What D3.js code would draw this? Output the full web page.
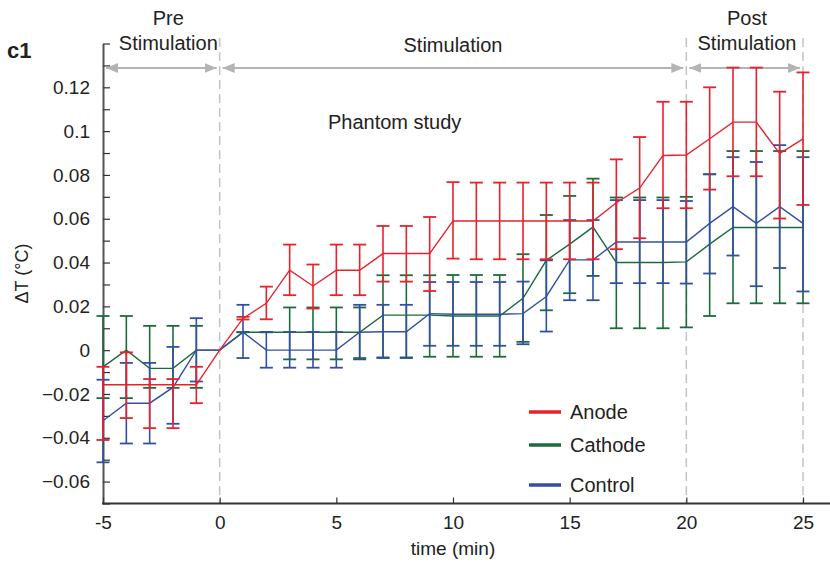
<!DOCTYPE html>
<html>
<head>
<meta charset="utf-8">
<script src="https://cdn.jsdelivr.net/npm/d3@7"></script>
<style>
  body { margin: 0; background: #fff; }
  svg { display: block; font-family: "Liberation Sans", Arial, Helvetica, sans-serif; }
</style>
</head>
<body>
<svg id="chart" width="830" height="563"></svg>
<script>
// time points (min) — baseline at 0 has no error bar
const times = [-5, -4, -3, -2, -1, 0, 1, 2, 3, 4, 5, 6, 7, 8, 9, 10, 11, 12, 13, 14, 15, 16, 17, 18, 19, 20, 21, 22, 23, 24, 25]

// Anode (red)
const anodeMean = [-0.0158, -0.0158, -0.0158, -0.0158, -0.0158, 0, 0.0145, 0.0214, 0.0365, 0.0293, 0.0365, 0.0365, 0.0441, 0.0441, 0.0441, 0.059, 0.059, 0.059, 0.059, 0.059, 0.059, 0.059, 0.0673, 0.074, 0.0889, 0.0891, 0.0965, 0.1041, 0.1041, 0.0897, 0.0965]
const anodeHi = [-0.0076, -0.001, -0.0132, -0.0132, -0.0076, 0, 0.0152, 0.029, 0.0482, 0.0391, 0.0482, 0.0482, 0.0567, 0.0567, 0.0608, 0.0767, 0.0765, 0.0765, 0.0765, 0.0765, 0.0765, 0.0765, 0.0871, 0.0973, 0.1134, 0.1134, 0.12, 0.129, 0.129, 0.118, 0.1268]
const anodeLo = [-0.041, -0.031, -0.0356, -0.0356, -0.0242, 0, 0.0140, 0.0141, 0.0251, 0.019, 0.0251, 0.0251, 0.0313, 0.0313, 0.027, 0.0418, 0.0415, 0.0415, 0.0415, 0.0415, 0.0415, 0.0415, 0.0461, 0.0511, 0.0648, 0.0648, 0.0733, 0.0794, 0.0794, 0.0601, 0.0663]

// Cathode (green)
const cathodeMean = [-0.0076, 0, -0.0083, -0.0083, 0, 0, 0.0082, 0.0082, 0.0082, 0.0082, 0.0082, 0.0082, 0.016, 0.016, 0.016, 0.0156, 0.0156, 0.0156, 0.0237, 0.041, 0.0484, 0.0562, 0.04, 0.04, 0.04, 0.0403, 0.0484, 0.056, 0.056, 0.056, 0.056]
const cathodeHi = [0.0156, 0.0156, 0.0111, 0.0111, 0.0111, 0, 0.0082, 0.0082, 0.0195, 0.0195, 0.0195, 0.0195, 0.0342, 0.0342, 0.0342, 0.0343, 0.0343, 0.0343, 0.0438, 0.0617, 0.0704, 0.0783, 0.0697, 0.0697, 0.0697, 0.07, 0.0803, 0.0909, 0.0909, 0.0909, 0.0909]
const cathodeLo = [-0.0219, -0.0219, -0.0172, -0.0172, -0.0172, 0, 0.0082, 0.0082, -0.0042, -0.0042, -0.0042, -0.0042, -0.0033, -0.0033, -0.003, -0.003, -0.003, -0.003, 0.0038, 0.0182, 0.026, 0.0339, 0.01, 0.01, 0.01, 0.0104, 0.0156, 0.0214, 0.0214, 0.0214, 0.0214]

// Control (blue)
const controlMean = [-0.0322, -0.0242, -0.0242, -0.017, 0, 0, 0.0082, 0, 0, 0, 0, 0.0082, 0.0084, 0.0084, 0.0167, 0.0164, 0.0164, 0.0164, 0.0167, 0.0245, 0.0412, 0.0412, 0.0494, 0.0494, 0.0494, 0.0494, 0.0579, 0.0655, 0.0579, 0.0655, 0.0579]
const controlHi = [-0.0135, -0.0058, -0.0058, 0.0015, 0.0146, 0, 0.0207, 0.0083, 0.0083, 0.0083, 0.0083, 0.0207, 0.0207, 0.0207, 0.0311, 0.0311, 0.0311, 0.0311, 0.0313, 0.041, 0.0594, 0.0594, 0.0685, 0.0685, 0.0685, 0.0681, 0.0803, 0.0881, 0.0859, 0.0936, 0.0881]
const controlLo = [-0.0512, -0.0426, -0.0426, -0.0336, -0.0143, 0, -0.0036, -0.008, -0.008, -0.008, -0.008, -0.0036, -0.0036, -0.0036, 0.002, 0.002, 0.002, 0.002, 0.0027, 0.0085, 0.0228, 0.0228, 0.0306, 0.0306, 0.0306, 0.0304, 0.035, 0.0432, 0.0292, 0.0375, 0.0268]

const xTicks = [-5, 0, 5, 10, 15, 20, 25]
const xTickLabels = ['-5', '0', '5', '10', '15', '20', '25']
const yLabelTicks = [-0.06, -0.04, -0.02, 0, 0.02, 0.04, 0.06, 0.08, 0.1, 0.12]
const yTickLabels = ['\u22120.06', '\u22120.04', '\u22120.02', '0', '0.02', '0.04', '0.06', '0.08', '0.1', '0.12']
const yMinorTicks = [-0.07, -0.06, -0.05, -0.04, -0.03, -0.02, -0.01, 0, 0.01, 0.02, 0.03, 0.04, 0.05, 0.06, 0.07, 0.08, 0.09, 0.1, 0.11, 0.12, 0.13, 0.14]

const phaseBounds = [0, 20, 25]

const series = [
  {name: 'Cathode', color: '#1c6b3a', mean: cathodeMean, hi: cathodeHi, lo: cathodeLo},
  {name: 'Control', color: '#3250a3', mean: controlMean, hi: controlHi, lo: controlLo},
  {name: 'Anode', color: '#e8212b', mean: anodeMean, hi: anodeHi, lo: anodeLo}
]
const legendOrder = ['Anode', 'Cathode', 'Control']

const svg = d3.select('#chart')
const x = d3.scaleLinear().domain([-5, 25]).range([103, 803])
const y = d3.scaleLinear().domain([-0.07, 0.14]).range([503.5, 43.5])
const textColor = '#222'

// phase separators (dashed)
svg.append('g').selectAll('line').data(phaseBounds).join('line')
  .attr('x1', d => x(d)).attr('x2', d => x(d))
  .attr('y1', 38).attr('y2', y(-0.07))
  .attr('stroke', '#c4c4c4').attr('stroke-width', 1.5).attr('stroke-dasharray', '9,5')

// phase arrows
const defs = svg.append('defs')
defs.append('marker').attr('id', 'arr').attr('viewBox', '0 0 12 10')
  .attr('refX', 12).attr('refY', 5).attr('markerWidth', 12).attr('markerHeight', 10)
  .attr('markerUnits', 'userSpaceOnUse').attr('orient', 'auto-start-reverse')
  .append('path').attr('d', 'M0,0L12,5L0,10Z').attr('fill', '#b4b4b4')

const arrowY = 68
const arrows = [[-5, 0], [0, 20], [20, 25]]
svg.append('g').selectAll('line').data(arrows).join('line')
  .attr('x1', d => x(d[0]) + 3).attr('x2', d => x(d[1]) - 3)
  .attr('y1', arrowY).attr('y2', arrowY)
  .attr('stroke', '#b4b4b4').attr('stroke-width', 2)
  .attr('marker-start', 'url(#arr)').attr('marker-end', 'url(#arr)')

// phase labels
const phaseText = [
  {t: 'Pre', x: -2.2, y: 25},
  {t: 'Stimulation', x: -2.2, y: 50},
  {t: 'Stimulation', x: 10, y: 52},
  {t: 'Post', x: 22.6, y: 25},
  {t: 'Stimulation', x: 22.6, y: 50}
]
svg.append('g').selectAll('text').data(phaseText).join('text')
  .attr('x', d => x(d.x)).attr('y', d => d.y)
  .attr('text-anchor', 'middle').attr('font-size', 20).attr('fill', textColor)
  .text(d => d.t)

svg.append('text').attr('x', x(7.5)).attr('y', 129)
  .attr('text-anchor', 'middle').attr('font-size', 20).attr('fill', textColor)
  .text('Phantom study')

// panel tag
svg.append('text').attr('x', 7).attr('y', 58)
  .attr('font-size', 22).attr('font-weight', 'bold').attr('fill', textColor)
  .text('c1')

// y axis
const yAxis = d3.axisLeft(y).tickValues(yMinorTicks).tickSizeInner(-7).tickSizeOuter(0).tickPadding(13)
  .tickFormat(d => {
    const i = yLabelTicks.findIndex(v => Math.abs(v - d) < 1e-9)
    return i >= 0 ? yTickLabels[i] : ''
  })
const gy = svg.append('g').attr('transform', `translate(${x(-5)},0)`).call(yAxis)
gy.select('.domain').attr('stroke', '#555').attr('stroke-width', 2)
gy.selectAll('.tick line').attr('stroke', '#333').attr('stroke-width', 1.2)
gy.selectAll('.tick text').attr('font-size', 19).attr('fill', textColor)
  .attr('font-family', '"Liberation Sans", Arial, sans-serif')

svg.append('text')
  .attr('transform', `translate(28,${y(0.035)}) rotate(-90)`)
  .attr('text-anchor', 'middle').attr('font-size', 18).attr('fill', textColor)
  .text('\u0394T (\u00B0C)')

// x axis
const xAxis = d3.axisBottom(x).tickValues(xTicks).tickSizeInner(-6).tickSizeOuter(0).tickPadding(12)
  .tickFormat((d, i) => xTickLabels[i])
const gx = svg.append('g').attr('transform', `translate(0,${y(-0.07)})`).call(xAxis)
gx.select('.domain').remove()
gx.selectAll('.tick line').attr('stroke', '#333').attr('stroke-width', 1.2)
gx.selectAll('.tick text').attr('font-size', 19).attr('fill', textColor)
  .attr('font-family', '"Liberation Sans", Arial, sans-serif')
svg.append('line').attr('x1', x(-5) - 1).attr('x2', 830).attr('y1', y(-0.07)).attr('y2', y(-0.07))
  .attr('stroke', '#333').attr('stroke-width', 2.2)

svg.append('text').attr('x', x(10)).attr('y', 555)
  .attr('text-anchor', 'middle').attr('font-size', 19).attr('fill', textColor)
  .text('time (min)')

// series: error bars + mean line
const capW = 6.5
const line = d3.line().x((d, i) => x(times[i])).y(d => y(d))

series.forEach(s => {
  const g = svg.append('g')
  const pts = times.map((t, i) => ({t: t, hi: s.hi[i], lo: s.lo[i]})).filter(d => d.t !== 0)
  g.selectAll('line.bar').data(pts).join('line').attr('class', 'bar')
    .attr('x1', d => x(d.t)).attr('x2', d => x(d.t))
    .attr('y1', d => y(d.hi)).attr('y2', d => y(d.lo))
    .attr('stroke', s.color).attr('stroke-width', 1.6)
  g.selectAll('line.capHi').data(pts).join('line').attr('class', 'capHi')
    .attr('x1', d => x(d.t) - capW).attr('x2', d => x(d.t) + capW)
    .attr('y1', d => y(d.hi)).attr('y2', d => y(d.hi))
    .attr('stroke', s.color).attr('stroke-width', 1.8)
  g.selectAll('line.capLo').data(pts).join('line').attr('class', 'capLo')
    .attr('x1', d => x(d.t) - capW).attr('x2', d => x(d.t) + capW)
    .attr('y1', d => y(d.lo)).attr('y2', d => y(d.lo))
    .attr('stroke', s.color).attr('stroke-width', 1.8)
  g.append('path').datum(s.mean).attr('d', line)
    .attr('fill', 'none').attr('stroke', s.color).attr('stroke-width', 1.4)
})

// legend
const legendY = [412, 445, 485]
const lg = svg.append('g')
legendOrder.forEach((name, i) => {
  const s = series.find(d => d.name === name)
  lg.append('line').attr('x1', 529).attr('x2', 561).attr('y1', legendY[i]).attr('y2', legendY[i])
    .attr('stroke', s.color).attr('stroke-width', 3.5)
  lg.append('text').attr('x', 570).attr('y', legendY[i] + 7)
    .attr('font-size', 20).attr('fill', textColor).text(name)
})
</script>
</body>
</html>
